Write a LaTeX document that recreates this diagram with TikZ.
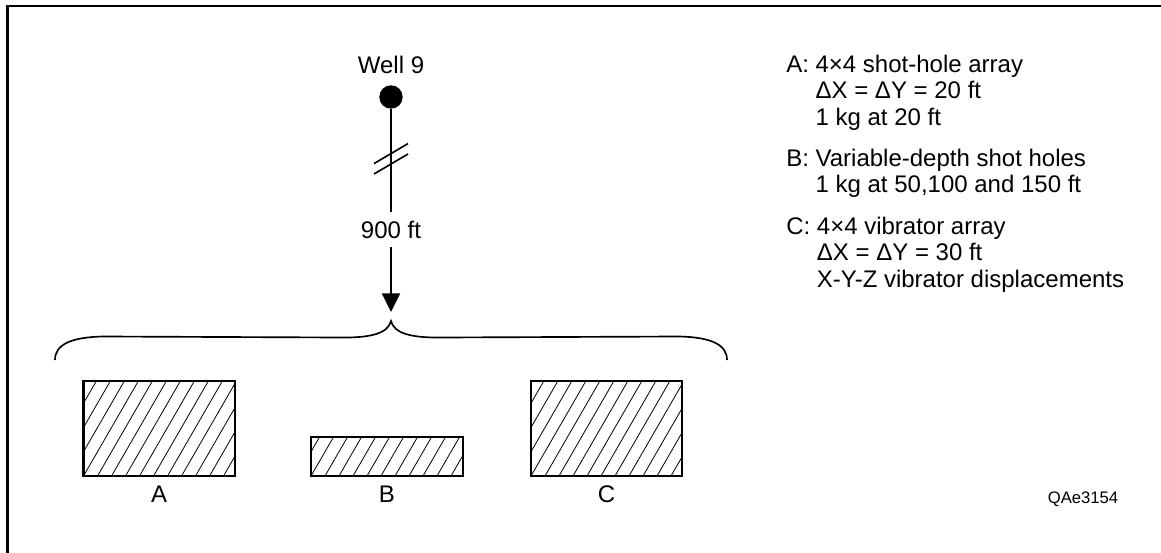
\documentclass[tikz,border=0pt]{standalone}
\usepackage{fontspec}
\setmainfont{Liberation Sans}
\usetikzlibrary{arrows.meta}
\begin{document}
\begin{tikzpicture}[x=0.75pt,y=-0.75pt,
  every node/.style={inner sep=0pt, font=\fontsize{18}{19.9}\selectfont},
  frameline/.style={line width=2.2pt},
  thinline/.style={line width=1.25pt},
  hatched/.style={draw, line width=2pt,
    path picture={
      \foreach \k in {-8,...,14}
        \draw[line width=0.6pt]
          ([xshift=\k*10.5pt]path picture bounding box.south west) -- ++(60:130pt);
    }},
  smalltext/.style={font=\fontsize{12.5}{15}\selectfont}
]
\useasboundingbox (0,0) rectangle (1161,553);

% partial frame
\draw[frameline] (7.5,553) -- (7.5,6) -- (1161,6);

% well and distance marker
\node[anchor=base] (welllabel) at (391,73) {Well 9};
\node[circle, fill=black, minimum size=17.5pt] (well) at (391,97) {};
\node[anchor=base, inner ysep=6.5pt] (dist) at (391,238) {900 ft};
\coordinate (arrowend) at (391,312);
\coordinate (bracetip) at (391,321);
\draw[thinline] (well) -- (dist.north);
% break marks
\draw[thinline] (374,163.6) -- (408,143.6);
\draw[thinline] (374,174) -- (408,154);
\draw[thinline, -{Triangle[length=14pt,width=13.5pt]}] (dist.south) -- (arrowend);

% brace over the three source areas
\draw[thinline] (55,360) .. controls (55,345) and (70,337) .. (104,336.5)
  -- (340,337.5) .. controls (372,338) and (388,333) .. (bracetip)
  .. controls (394,333) and (410,338) .. (442,337.5)
  -- (678,336.5) .. controls (712,337) and (727,345) .. (727,360);

% source areas
\node[hatched, minimum width=113.6pt, minimum height=71.25pt] (boxA) at (159.25,428.5) {};
\node[hatched, minimum width=114pt, minimum height=29.25pt] (boxB) at (387,456.5) {};
\node[hatched, minimum width=113.25pt, minimum height=71.25pt] (boxC) at (606.5,428.5) {};
\node (labA) at (159.25,494.5) {A};
\node (labB) at (387,494.5) {B};
\node (labC) at (606.5,494.5) {C};

% legend
\node[anchor=base west] (noteA) at (786,72) {\begin{tabular}[t]{@{}l@{\ }l@{}}
  A: & 4×4 shot-hole array\\
     & ΔX = ΔY = 20 ft\\
     & 1 kg at 20 ft
\end{tabular}};
\node[anchor=base west] (noteB) at (786,166) {\begin{tabular}[t]{@{}l@{\ }l@{}}
  B: & Variable-depth shot holes\\
     & 1 kg at 50,100 and 150 ft
\end{tabular}};
\node[anchor=base west] (noteC) at (786,234) {\begin{tabular}[t]{@{}l@{\ }l@{}}
  C: & 4×4 vibrator array\\
     & ΔX = ΔY = 30 ft\\
     & X-Y-Z vibrator displacements
\end{tabular}};

\node[smalltext] (code) at (1083,499) {QAe3154};
\end{tikzpicture}
\end{document}
